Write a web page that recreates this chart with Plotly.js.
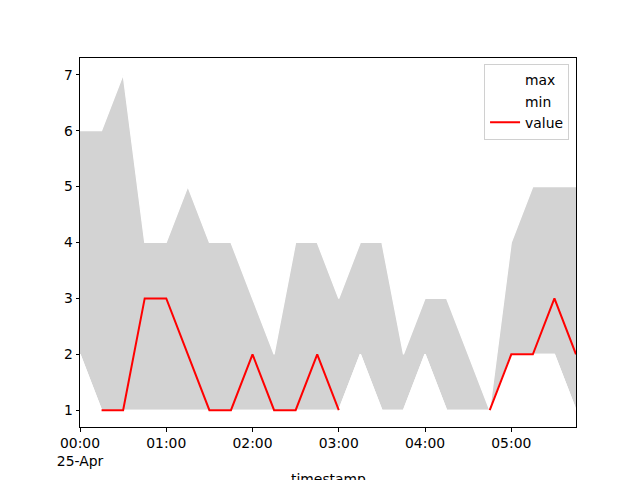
<!DOCTYPE html>
<html>
<head>
<meta charset="utf-8">
<script src="https://cdn.plot.ly/plotly-3.0.1.min.js"></script>
<style>html,body{margin:0;padding:0;background:#fff;}#chart{width:640px;height:480px;}</style>
</head>
<body>
<div id="chart"></div>
<script>
const timestamps = [
  '2023-04-25 00:00','2023-04-25 00:15','2023-04-25 00:30','2023-04-25 00:45',
  '2023-04-25 01:00','2023-04-25 01:15','2023-04-25 01:30','2023-04-25 01:45',
  '2023-04-25 02:00','2023-04-25 02:15','2023-04-25 02:30','2023-04-25 02:45',
  '2023-04-25 03:00','2023-04-25 03:15','2023-04-25 03:30','2023-04-25 03:45',
  '2023-04-25 04:00','2023-04-25 04:15','2023-04-25 04:30','2023-04-25 04:45',
  '2023-04-25 05:00','2023-04-25 05:15','2023-04-25 05:30','2023-04-25 05:45'
];
const maxValues = [6,6,7,4,4,5,4,4,3,2,4,4,3,4,4,2,3,3,2,1,4,5,5,5];
const minValues = [2,1,1,1,1,1,1,1,1,1,1,1,1,2,1,1,2,1,1,1,2,2,2,1];
const values = [null,1,1,3,3,2,1,1,2,1,1,2,1,null,null,null,null,null,null,1,2,2,3,2];
const tickVals = ['2023-04-25 00:00','2023-04-25 01:00','2023-04-25 02:00','2023-04-25 03:00','2023-04-25 04:00','2023-04-25 05:00'];
const tickText = ['00:00<br>25-Apr','01:00','02:00','03:00','04:00','05:00'];
const xTitle = 'timestamp';

const font = {family: 'DejaVu Sans, sans-serif', size: 13.9, color: '#000'};

const traces = [
  {x: timestamps, y: minValues, name: 'min', mode: 'lines', type: 'scatter',
   line: {color: '#ffffff', width: 1.2}, legendrank: 2, hoverinfo: 'skip'},
  {x: timestamps, y: maxValues, name: 'band', mode: 'lines', type: 'scatter',
   line: {color: 'rgba(0,0,0,0)', width: 0}, fill: 'tonexty', fillcolor: '#d3d3d3',
   showlegend: false, hoverinfo: 'skip'},
  {x: timestamps, y: maxValues, name: 'max', mode: 'lines', type: 'scatter',
   line: {color: '#ffffff', width: 1.2}, legendrank: 1},
  {x: timestamps, y: minValues, name: 'min-edge', mode: 'lines', type: 'scatter',
   line: {color: '#ffffff', width: 1.2}, showlegend: false, hoverinfo: 'skip'},
  {x: timestamps, y: values, name: 'value', mode: 'lines', type: 'scatter',
   line: {color: '#ff0000', width: 2}, connectgaps: false, legendrank: 3}
];

const layout = {
  width: 640, height: 480,
  margin: {l: 80, r: 64, t: 58, b: 53},
  paper_bgcolor: '#ffffff', plot_bgcolor: '#ffffff',
  font: font,
  showlegend: true,
  legend: {x: 0.986, y: 0.985, xanchor: 'right', yanchor: 'top',
    bgcolor: 'rgba(255,255,255,0.8)', bordercolor: '#d0d0d0', borderwidth: 1,
    font: font, traceorder: 'normal', tracegroupgap: 0},
  xaxis: {
    type: 'date',
    range: ['2023-04-25 00:00', '2023-04-25 05:45'],
    tickmode: 'array', tickvals: tickVals, ticktext: tickText,
    ticks: 'outside', ticklen: 3.5, tickwidth: 1, tickcolor: '#000',
    showline: true, linecolor: '#000', linewidth: 1, mirror: true,
    showgrid: false, zeroline: false
  },
  yaxis: {
    range: [0.7, 7.3],
    tickmode: 'array', tickvals: [1,2,3,4,5,6,7],
    ticks: 'outside', ticklen: 3.5, tickwidth: 1, tickcolor: '#000',
    showline: true, linecolor: '#000', linewidth: 1, mirror: true,
    showgrid: false, zeroline: false
  },
  annotations: [
    {text: xTitle, xref: 'paper', yref: 'paper', x: 0.5, y: 0,
     xanchor: 'center', yanchor: 'top', yshift: -42, showarrow: false, font: font}
  ]
};

Plotly.newPlot('chart', traces, layout, {displayModeBar: false, staticPlot: true});
</script>
</body>
</html>
